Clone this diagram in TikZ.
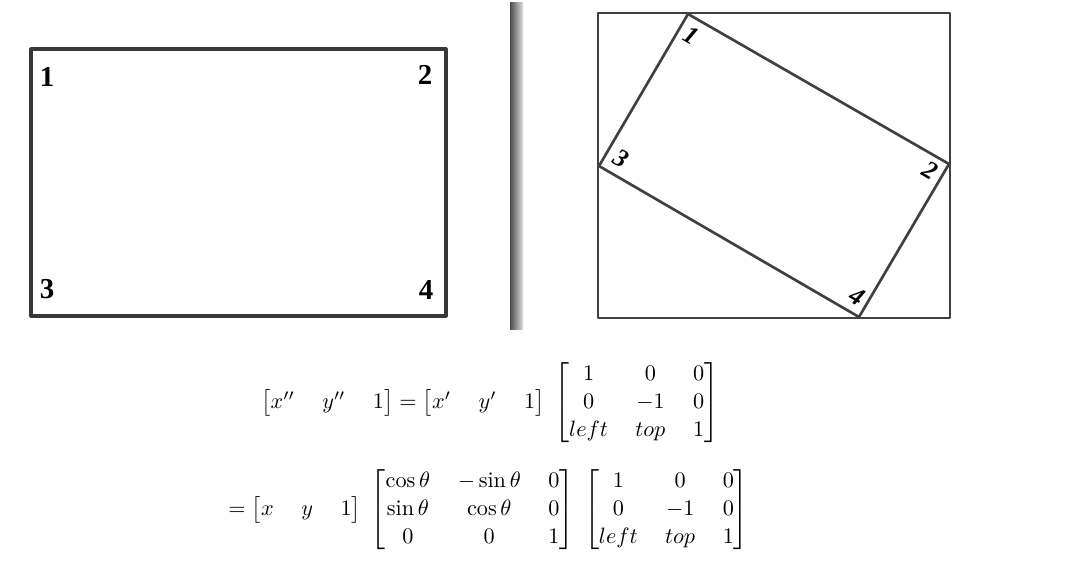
\documentclass[tikz,border=0pt]{standalone}
\usepackage{amsmath,amssymb}
\usepackage{fontspec}
\usepackage{tikz}
\newfontfamily\cornerfont{Liberation Serif}
\tikzset{
  frame/.style={draw=black!78,line width=1.4pt,line join=round},
  tilt/.style={draw=black!75,line width=1.2pt,line join=round},
  corner/.style={font=\cornerfont\bfseries\fontsize{13}{13}\selectfont,inner sep=0pt},
  tiltcorner/.style={font=\cornerfont\bfseries\itshape\fontsize{11.5}{11.5}\selectfont,inner sep=0pt,rotate=-30},
  eq/.style={anchor=west,inner sep=0pt}
}
\setlength{\arraycolsep}{6.2pt}
\renewcommand{\arraystretch}{1.05}

\begin{document}
\begin{tikzpicture}[x=0.45pt,y=-0.45pt]

  \useasboundingbox (0,0) rectangle (1079,574);

  \draw [frame] (31,49) rectangle (446,316);
  \node [corner] (one) at (47,77) {1};
  \node [corner] (two) at (425,75) {2};
  \node [corner] (three) at (47,289) {3};
  \node [corner] (four) at (426,290) {4};

  \shade [left color=black!70,right color=black!12] (510,3) rectangle (523,330);

  \draw [tilt] (598,13) rectangle (950,318);
  \coordinate (p1) at (688,14);
  \coordinate (p2) at (949,164);
  \coordinate (p4) at (859,317);
  \coordinate (p3) at (599,166);
  \draw [tilt] (p1) -- (p2) -- (p4) -- (p3) -- cycle;
  \node [tiltcorner] (tone) at (691,35) {1};
  \node [tiltcorner] (ttwo) at (930,170) {2};
  \node [tiltcorner] (tthree) at (621,158) {3};
  \node [tiltcorner] (tfour) at (857,296) {4};

  \node [eq] (lineA) at (261,403) {$\begin{bmatrix} x'' & y'' & 1\end{bmatrix} = \begin{bmatrix} x' & y' & 1\end{bmatrix}\;\begin{bmatrix} 1 & 0 & 0\\ 0 & -1 & 0\\ left & top & 1\end{bmatrix}$};
  \node [eq] (lineB) at (228,510) {$= \begin{bmatrix} x & y & 1\end{bmatrix}\;\begin{bmatrix}\cos\theta & -\sin\theta & 0\\ \sin\theta & \cos\theta & 0\\ 0 & 0 & 1\end{bmatrix}\;\begin{bmatrix} 1 & 0 & 0\\ 0 & -1 & 0\\ left & top & 1\end{bmatrix}$};

\end{tikzpicture}
\end{document}
